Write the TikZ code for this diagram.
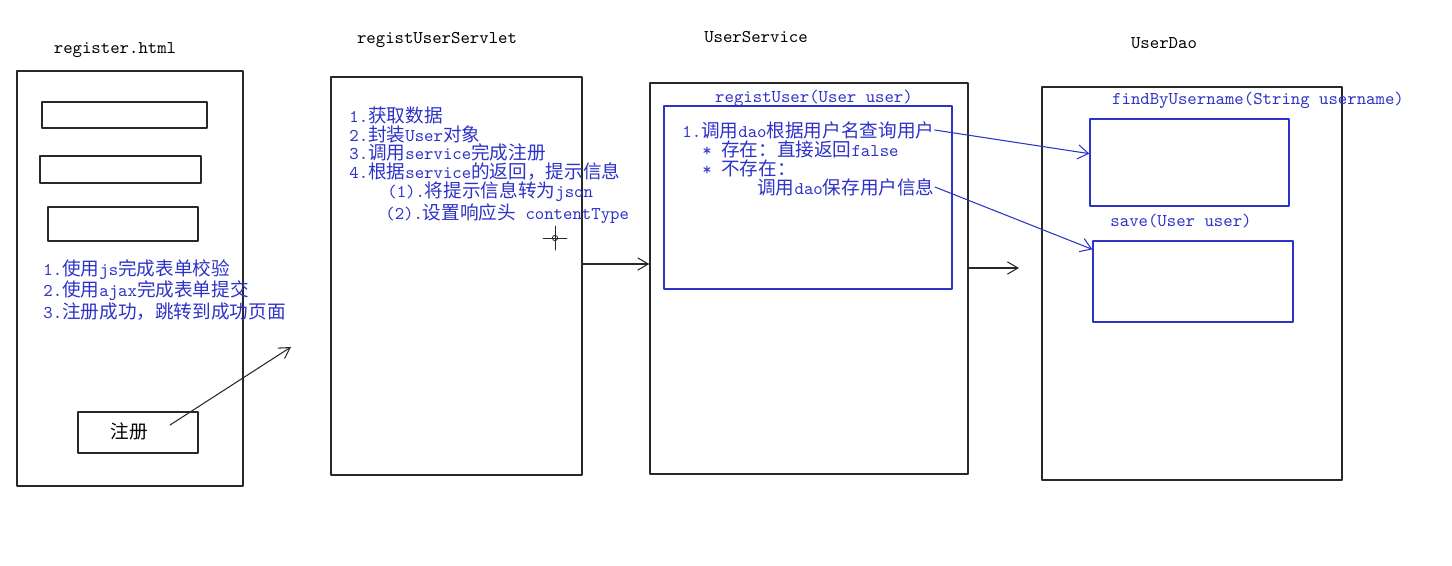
\documentclass[tikz,border=0pt]{standalone}
\usepackage{fontspec}
\newfontfamily\cjk{Noto Sans CJK SC}
\usetikzlibrary{arrows.meta}
\usetikzlibrary{fit}
\usetikzlibrary{calc}

\newcommand\zh[1]{{\cjk\fontsize{10.6}{10.8}\selectfont #1}}
\definecolor{penblue}{RGB}{45,50,200}
\definecolor{pengray}{RGB}{40,40,40}

\tikzset{
  box/.style = {draw = pengray, line width = .8pt, inner sep = 0pt},
  subbox/.style = {draw = penblue, line width = .8pt, inner sep = 0pt},
  title/.style = {font = \ttfamily\fontsize{10.2}{11}\selectfont,
    inner sep = 0pt},
  note/.style = {font = \ttfamily\fontsize{10.2}{10.8}\selectfont,
    text = penblue, inner sep = 0pt, anchor = west, align = left},
  flow/.style = {-{Straight Barb[length = 6pt, width = 7pt]}, pengray,
    line width = .6pt},
  call/.style = {-{Straight Barb[length = 6pt, width = 8pt]}, penblue,
    line width = .6pt}
}

\begin{document}
\begin{tikzpicture}[x = .02cm, y = -.02cm, line join = round,
  line cap = round]
  \useasboundingbox (0, 0) rectangle (1452, 565);

  % register.html
  \node[title] (t1) at (115, 50) {register.html};
  \node[box, fit = {(17, 71) (243, 486)}] (html) {};
  \node[box, fit = {(42, 102) (207, 128)}] (in1) {};
  \node[box, fit = {(40, 156) (201, 183)}] (in2) {};
  \node[box, fit = {(48, 207) (198, 241)}] (in3) {};
  \node[note] (n1) at (43, 290) {1.\zh{使用}js\zh{完成表单校验}\\
    2.\zh{使用}ajax\zh{完成表单提交}\\
    3.\zh{注册成功，跳转到成功页面}};
  \node[box, fit = {(78, 412) (198, 453)}] (btn) {};
  \node[inner sep = 0pt, font = \cjk\fontsize{10.6}{11}\selectfont]
  (btntext) at (129, 431) {注册};
  \coordinate (tap) at (170, 425);
  \coordinate (tip) at (291, 347);
  \draw[flow] (tap) -- (tip);

  % regist servlet
  \node[title] (t2) at (437, 40) {registUserServlet};
  \node[box, fit = {(331, 77) (582, 475)}] (servlet) {};
  \node[note] (n2) at (349, 165) {1.\zh{获取数据}\\
    2.\zh{封装}User\zh{对象}\\
    3.\zh{调用}service\zh{完成注册}\\
    4.\zh{根据}service\zh{的返回，提示信息}\\
    \hspace*{.76cm}(1).\zh{将提示信息转为}json\\
    \hspace*{.72cm}(2).\zh{设置响应头} contentType};
  \draw[pengray, line width = .5pt] (543, 238) -- (567, 238)
  (555, 226) -- (555, 250);
  \draw[pengray, line width = .5pt] (555, 238) circle[radius = 1.5pt];

  % user service
  \node[title] (t3) at (756, 37) {UserService};
  \node[box, fit = {(650, 83) (968, 474)}] (service) {};
  \node[subbox, fit = {(664, 106) (952, 289)}] (regist) {};
  \node[note, anchor = center] (m1) at (814, 98) {registUser(User user)};
  \node[note] (s1) at (682, 130) {1.\zh{调用}dao\zh{根据用户名查询用户}};
  \node[note] (s2) at (702, 149) {* \zh{存在：直接返回}false};
  \node[note] (s3) at (702, 168) {* \zh{不存在：}};
  \node[note] (s4) at (757, 187) {\zh{调用}dao\zh{保存用户信息}};

  \coordinate (lvl1) at (0, 264);
  \draw[flow] (servlet.east |- lvl1) -- (service.west |- lvl1);
  \coordinate (lvl2) at (1019, 268);
  \draw[flow] (service.east |- lvl2) -- (lvl2);

  % user dao
  \node[title] (t4) at (1164, 43) {UserDao};
  \node[box, fit = {(1042, 87) (1342, 480)}] (dao) {};
  \node[subbox, fit = {(1090, 119) (1289, 206)}] (find) {};
  \node[note, anchor = center] (m2) at (1258, 100)
  {findByUsername(String username)};
  \node[subbox, fit = {(1093, 241) (1293, 322)}] (save) {};
  \node[note, anchor = center] (m3) at (1181, 221) {save(User user)};

  \draw[call] (s1.east) -- ($(find.north west)!.4!(find.south west)$);
  \draw[call] (s4.east) -- ($(save.north west)!.11!(save.south west)$);
\end{tikzpicture}
\end{document}
